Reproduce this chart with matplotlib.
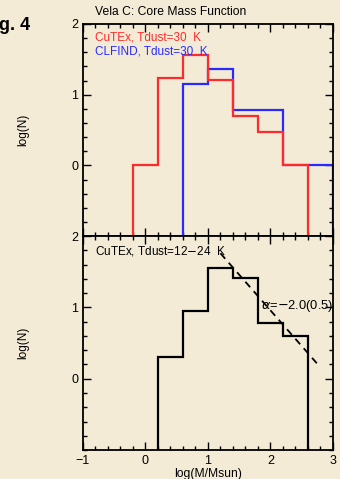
#
# Vela C core mass function: log(N) histograms for CuTEx / CLFIND
#
import numpy as np
import matplotlib
matplotlib.use('Agg')
import matplotlib.pyplot as plt
from matplotlib.ticker import MultipleLocator

plt.rcParams['font.family'] = ['Liberation Sans', 'DejaVu Sans']

# bin edges in log(M/Msun), width 0.4
cutex30_edges = [-0.2, 0.2, 0.6, 1.0, 1.4, 1.8, 2.2, 2.6]
cutex30_counts = [1, 17, 36, 16, 5, 3, 1]

clfind30_edges = [0.6, 1.0, 1.4, 1.8, 2.2, 2.6, 3.0]
clfind30_counts = [14, 23, 6, 6, 1, 1]

cutex_var_edges = [0.2, 0.6, 1.0, 1.4, 1.8, 2.2, 2.6]
cutex_var_counts = [2, 9, 36, 26, 6, 4]

# power-law fit, alpha = -2.0 -> slope -1 in log(N) vs log(M)
fit_x = [1.2, 2.8]
fit_slope = -1.0
fit_icpt = 2.96

bg = '#f3ebd6'
red = '#ff2a2a'
blue = '#2a2aff'

fig = plt.figure(figsize=(3.4, 4.79), dpi=100, facecolor=bg)
ax1 = fig.add_axes([0.244, 0.507, 0.735, 0.443])
ax2 = fig.add_axes([0.244, 0.0605, 0.735, 0.4465])

for ax in (ax1, ax2):
    ax.set_facecolor(bg)
    ax.set_xlim(-1, 3)
    ax.set_ylim(-1, 2)
    ax.set_yticks([0, 1, 2])
    ax.xaxis.set_major_locator(MultipleLocator(1))
    ax.xaxis.set_minor_locator(MultipleLocator(0.2))
    ax.yaxis.set_minor_locator(MultipleLocator(0.2))
    ax.tick_params(which='both', direction='in', top=True, right=True,
                   labelsize=9, width=1)
    ax.tick_params(which='major', length=6)
    ax.tick_params(which='minor', length=3)
    for s in ax.spines.values():
        s.set_linewidth(1.3)
    ax.set_ylabel('log(N)', fontsize=8.5, labelpad=30)

ax1.tick_params(labelbottom=False)

ax1.stairs(np.log10(cutex30_counts), cutex30_edges, baseline=-1,
           color=red, lw=1.6, zorder=3)
ax1.stairs(np.log10(clfind30_counts), clfind30_edges, baseline=-1,
           color=blue, lw=1.6, zorder=2)
ax1.text(0.048, 0.935, 'CuTEx, Tdust=30  K', color=red, fontsize=8.5,
         transform=ax1.transAxes, va='center')
ax1.text(0.048, 0.872, 'CLFIND, Tdust=30  K', color=blue, fontsize=8.5,
         transform=ax1.transAxes, va='center')

ax2.stairs(np.log10(cutex_var_counts), cutex_var_edges, baseline=-1,
           color='black', lw=1.6)
fx = np.array(fit_x)
ax2.plot(fx, fit_icpt + fit_slope * fx, color='black', lw=1.3,
         ls=(0, (4, 3)))
ax2.text(1.85, 1.02, r'$\alpha$=$-$2.0(0.5)', fontsize=9.3, va='center')
ax2.text(0.048, 0.93, 'CuTEx, Tdust=12$-$24  K', fontsize=8.5,
         transform=ax2.transAxes, va='center')
ax2.set_xlabel('log(M/Msun)', fontsize=8.7, labelpad=1)

fig.text(95 / 340, 1 - 12 / 479, 'Vela C: Core Mass Function', fontsize=8.7,
         va='center')
fig.text(30 / 340, 1 - 25 / 479, 'Fig. 4', fontsize=13, fontweight='bold',
         ha='right', va='center')

fig.savefig('out.png', dpi=100, facecolor=bg)
